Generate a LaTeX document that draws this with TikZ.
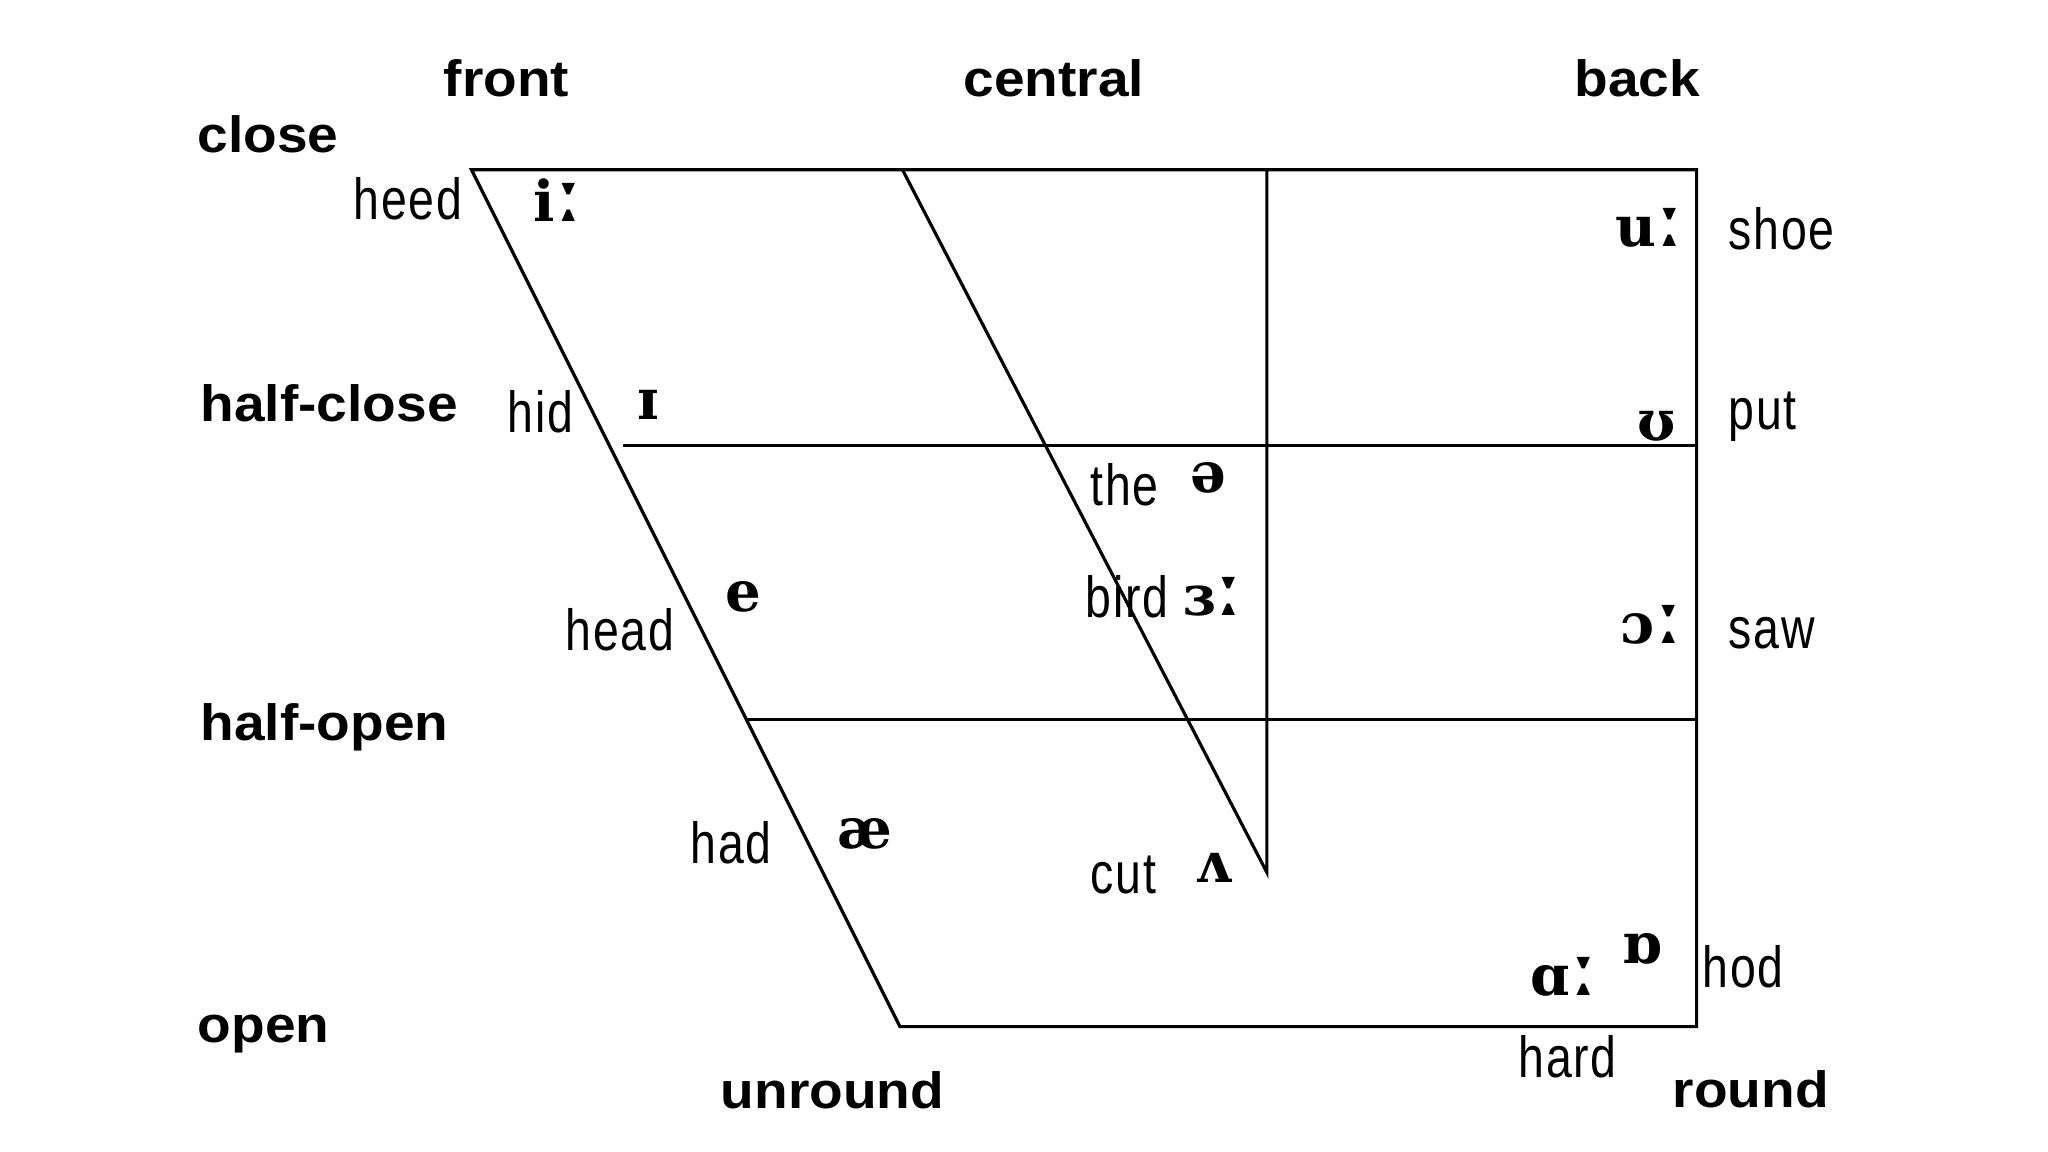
\documentclass[tikz,border=0pt]{standalone}
\usepackage{fontspec}
\setmainfont{Liberation Sans}
\newfontfamily\labfont{Liberation Sans}[FakeStretch=1.08]
\newfontfamily\handfont{Liberation Sans}[FakeStretch=0.8,LetterSpace=3]
\newfontfamily\ipafont{DejaVu Serif}
\newcommand\lngmark{\kern-0.8pt{\fontsize{25}{25}\selectfont ː}}
\tikzset{
  lab/.style={inner sep=0pt, anchor=base west, font=\labfont\bfseries\fontsize{14.5}{16}\selectfont},
  word/.style={inner sep=0pt, anchor=base west, font=\handfont\fontsize{16.5}{18}\selectfont},
  ipa/.style={inner sep=0pt, anchor=base west, font=\ipafont\bfseries\fontsize{16}{18}\selectfont},
  chart/.style={line width=0.9pt, black}
}
\begin{document}
\begin{tikzpicture}[x=0.01cm, y=-0.01cm]
\useasboundingbox (0,0) rectangle (2048,1152);
% corners
\coordinate (TL) at (471.5,169.8);
\coordinate (TR) at (1696.6,169.8);
\coordinate (BR) at (1696.6,1026.6);
\coordinate (BL) at (899.9,1026.6);
\coordinate (C1) at (902.5,169.8);
\coordinate (C2) at (1266.9,872.5);
\coordinate (V1) at (1266.9,169.8);
\coordinate (H1a) at (623,445.4);
\coordinate (H1b) at (1696.6,445.4);
\coordinate (H2a) at (746.4,719.7);
\coordinate (H2b) at (1696.6,719.7);
\draw[chart] (TL) -- (TR) -- (BR) -- (BL) -- cycle;
\draw[chart] (C1) -- (C2) -- (V1);
\draw[chart] (H1a) -- (H1b);
\draw[chart] (H2a) -- (H2b);
% axis labels
\node[lab] (front) at (443,97) {front};
\node[lab] (central) at (963,97) {central};
\node[lab] (back) at (1574,97) {back};
\node[lab] (close) at (197,153) {close};
\node[lab] (halfclose) at (200,422) {half-close};
\node[lab] (halfopen) at (200,740) {half-open};
\node[lab] (open) at (197,1042) {open};
\node[lab] (unround) at (720,1108) {unround};
\node[lab] (round) at (1672,1107) {round};
% example words
\node[word] (heed) at (353,220) {heed};
\node[word] (hid) at (507,433) {hid};
\node[word] (head) at (565,650) {head};
\node[word] (had) at (690,863) {had};
\node[word] (the) at (1090,505) {the};
\node[word] (bird) at (1085,617) {bird};
\node[word] (cut) at (1090,893) {cut};
\node[word] (shoe) at (1728,250) {shoe};
\node[word] (put) at (1728,430) {put};
\node[word] (saw) at (1728,648) {saw};
\node[word] (hod) at (1702,987) {hod};
\node[word] (hard) at (1518,1077) {hard};
% vowel symbols
\node[ipa] (vi) at (533,222) {i\lngmark};
\node[ipa] (vI) at (637,420) {ɪ};
\node[ipa] (ve) at (725,612) {e};
\node[ipa] (vae) at (837,848) {æ};
\node[ipa] (vschwa) at (1190,493) {ə};
\node[ipa] (vbird) at (1183,615) {ɜ\lngmark};
\node[ipa] (vcut) at (1195,882) {ʌ};
\node[ipa] (vu) at (1615,247) {u\lngmark};
\node[ipa] (vU) at (1637,441) {ʊ};
\node[ipa] (vO) at (1620,643) {ɔ\lngmark};
\node[ipa] (vA) at (1530,995) {ɑ\lngmark};
\node[ipa] (vQ) at (1622,963) {ɒ};
\end{tikzpicture}
\end{document}
